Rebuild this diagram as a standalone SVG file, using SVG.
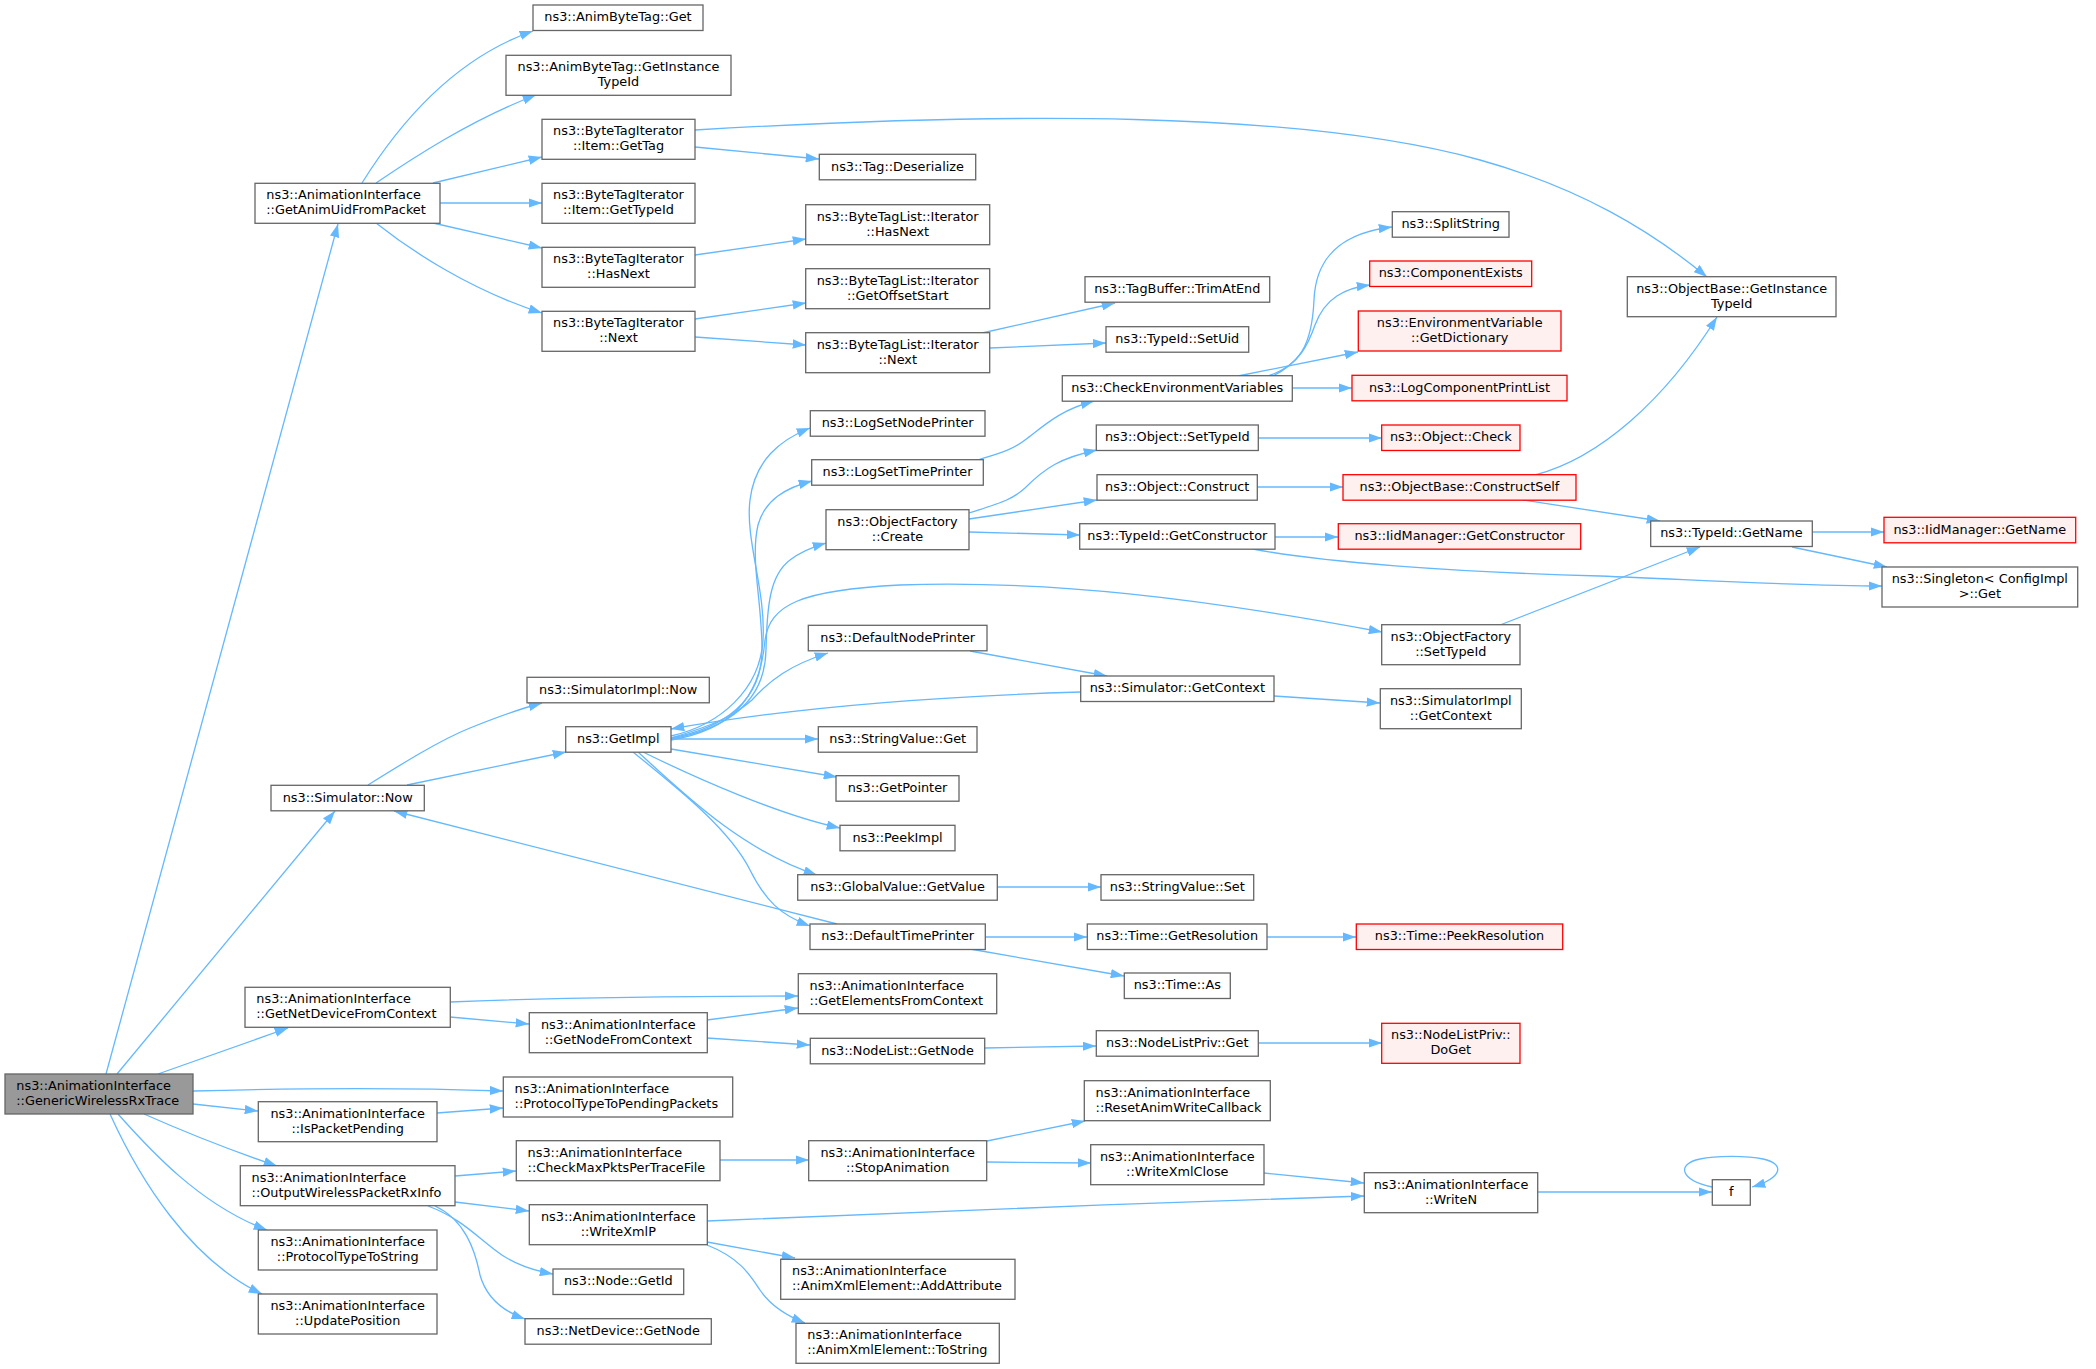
<svg xmlns="http://www.w3.org/2000/svg" width="2096" height="1369" viewBox="0 0 2096 1369">
<defs>
<marker id="a" markerUnits="userSpaceOnUse" markerWidth="14" markerHeight="9.4" viewBox="0 0 14 9.4" refX="13.3" refY="4.7" orient="auto"><path d="M0,0 L13.3,4.7 L0,9.4 z" fill="#63b8ff"/></marker>
</defs>
<style>
rect{fill:#fff;stroke:#666;stroke-width:1.3}
.r rect{fill:#fff0f0;stroke:#ff0000}
.root rect{fill:#999}
text{font-family:"DejaVu Sans","Liberation Sans",sans-serif;font-size:12.85px;fill:#000}
.c text{text-anchor:middle}
#edges path{fill:none;stroke:#63b8ff;stroke-width:1.3;marker-end:url(#a)}
</style>
<rect x="0" y="0" width="2096" height="1369" style="fill:#fff;stroke:none"/>
<g id="edges">
<path d="M106,1074 L338,224"/>
<path d="M117,1074 L335,811"/>
<path d="M158,1074 L288,1028"/>
<path d="M193,1091 C300,1088 420,1088 503,1091"/>
<path d="M193,1104 L258,1111"/>
<path d="M144,1114 C180,1130 230,1150 277,1166"/>
<path d="M118,1114 C150,1150 200,1205 267,1230"/>
<path d="M110,1114 C140,1180 190,1260 262,1294"/>
<path d="M362,183 C395,130 450,60 533,31"/>
<path d="M376,183 C410,160 470,120 536,95"/>
<path d="M433,183 L542,157"/>
<path d="M440,203 L542,203"/>
<path d="M433,223 L542,248"/>
<path d="M376,223 C410,250 470,290 542,313"/>
<path d="M695,130 C1000,112 1300,110 1480,160 C1580,188 1650,230 1707,277"/>
<path d="M695,147 L819,159"/>
<path d="M695,255 L806,239"/>
<path d="M695,319 L806,303"/>
<path d="M695,337 L806,345"/>
<path d="M982,333 L1115,303"/>
<path d="M990,348 L1106,343"/>
<path d="M1268,376 C1300,365 1312,345 1314,300 C1316,250 1350,232 1392,227"/>
<path d="M1273,376 C1300,362 1308,345 1315,325 C1325,298 1345,288 1370,285"/>
<path d="M1238,376 L1358,352"/>
<path d="M1292,388 L1352,388"/>
<path d="M1258,438 L1382,438"/>
<path d="M969,513 C1000,503 1012,500 1025,488 C1045,468 1060,458 1097,450"/>
<path d="M969,519 L1097,500"/>
<path d="M969,532 L1080,535"/>
<path d="M978,460 C1000,453 1012,450 1025,440 C1045,425 1060,410 1094,401"/>
<path d="M1535,475 C1600,458 1665,400 1717,317"/>
<path d="M1523,500 L1660,521"/>
<path d="M1275,537 L1338,537"/>
<path d="M1253,549 C1320,562 1450,572 1600,576 C1700,580 1800,586 1882,586"/>
<path d="M1500,625 L1700,547"/>
<path d="M1812,532 L1884,532"/>
<path d="M1792,547 L1887,567"/>
<path d="M1257,487 L1343,487"/>
<path d="M671,736 C720,725 760,690 763,640 C766,590 745,540 750,500 C755,460 780,440 810,428"/>
<path d="M671,738 C725,728 762,700 762,650 C762,600 750,560 758,525 C765,500 785,488 812,481"/>
<path d="M671,739 C730,728 765,700 766,650 C767,605 770,575 790,560 C800,552 812,547 826,543"/>
<path d="M671,740 C730,730 760,700 765,640 C770,605 800,590 900,585 C1050,580 1200,598 1382,632"/>
<path d="M671,738 C715,725 735,715 752,700 C770,680 790,665 828,653"/>
<path d="M1081,692 C950,696 800,706 671,729"/>
<path d="M671,739 L818,739"/>
<path d="M671,749 L837,777"/>
<path d="M643,752 C700,780 780,815 840,828"/>
<path d="M638,752 C680,790 740,850 817,875"/>
<path d="M633,752 C680,790 730,830 750,870 C765,900 780,915 810,926"/>
<path d="M837,924 L394,811"/>
<path d="M368,785 C400,765 440,740 470,728 C495,718 515,710 542,703"/>
<path d="M407,785 L566,752"/>
<path d="M997,887 L1101,887"/>
<path d="M970,651 L1107,676"/>
<path d="M1274,696 L1380,703"/>
<path d="M985,937 L1087,937"/>
<path d="M970,949 L1124,976"/>
<path d="M1267,937 L1356,937"/>
<path d="M450,1002 C550,998 700,996 798,996"/>
<path d="M450,1017 L529,1024"/>
<path d="M707,1020 L798,1008"/>
<path d="M707,1038 L810,1045"/>
<path d="M985,1048 L1096,1046"/>
<path d="M1258,1043 L1382,1043"/>
<path d="M437,1113 L503,1108"/>
<path d="M455,1176 L516,1171"/>
<path d="M455,1202 L529,1211"/>
<path d="M428,1206 C460,1218 475,1235 495,1250 C510,1262 530,1270 553,1274"/>
<path d="M435,1206 C465,1220 475,1250 480,1275 C487,1300 505,1312 525,1319"/>
<path d="M720,1160 L809,1160"/>
<path d="M987,1141 L1085,1121"/>
<path d="M987,1162 L1091,1163"/>
<path d="M1264,1173 L1364,1183"/>
<path d="M707,1221 C900,1212 1150,1203 1364,1196"/>
<path d="M707,1242 L795,1258"/>
<path d="M707,1245 C740,1258 750,1275 760,1290 C770,1305 785,1315 805,1323"/>
<path d="M1538,1192 L1712,1192"/>
<path d="M1712,1187 C1680,1180 1676,1164 1700,1159 C1715,1155.5 1748,1155.5 1763,1159 C1786,1164 1782,1178 1752,1187"/>
</g>
<g id="n0" class="root"><rect x="5" y="1074" width="188" height="40"/><text x="16.3" y="1089.9">ns3::AnimationInterface</text><text x="16.3" y="1104.9">::GenericWirelessRxTrace</text></g>
<g id="n1"><rect x="255" y="183.3" width="185" height="40"/><text x="266.3" y="199.2">ns3::AnimationInterface</text><text x="266.3" y="214.2">::GetAnimUidFromPacket</text></g>
<g id="n2" class="c"><rect x="533" y="5" width="170" height="25.5"/><text x="618" y="21.3">ns3::AnimByteTag::Get</text></g>
<g id="n3" class="c"><rect x="506" y="55.3" width="225" height="40"/><text x="618.5" y="71.2">ns3::AnimByteTag::GetInstance</text><text x="618.5" y="86.2">TypeId</text></g>
<g id="n4" class="c"><rect x="542" y="119.3" width="153" height="40"/><text x="618.5" y="135.2">ns3::ByteTagIterator</text><text x="618.5" y="150.2">::Item::GetTag</text></g>
<g id="n5" class="c"><rect x="542" y="183.3" width="153" height="40"/><text x="618.5" y="199.2">ns3::ByteTagIterator</text><text x="618.5" y="214.2">::Item::GetTypeId</text></g>
<g id="n6" class="c"><rect x="542" y="247.3" width="153" height="40"/><text x="618.5" y="263.2">ns3::ByteTagIterator</text><text x="618.5" y="278.2">::HasNext</text></g>
<g id="n7" class="c"><rect x="542" y="311.3" width="153" height="40"/><text x="618.5" y="327.2">ns3::ByteTagIterator</text><text x="618.5" y="342.2">::Next</text></g>
<g id="n8" class="c"><rect x="819.3" y="154.3" width="156.4" height="25.5"/><text x="897.5" y="170.6">ns3::Tag::Deserialize</text></g>
<g id="n9" class="c"><rect x="805.7" y="204.7" width="184" height="40"/><text x="897.7" y="220.6">ns3::ByteTagList::Iterator</text><text x="897.7" y="235.6">::HasNext</text></g>
<g id="n10" class="c"><rect x="805.7" y="268.7" width="184" height="40"/><text x="897.7" y="284.6">ns3::ByteTagList::Iterator</text><text x="897.7" y="299.6">::GetOffsetStart</text></g>
<g id="n11" class="c"><rect x="805.7" y="332.7" width="184" height="40"/><text x="897.7" y="348.6">ns3::ByteTagList::Iterator</text><text x="897.7" y="363.6">::Next</text></g>
<g id="n12" class="c"><rect x="1627.3" y="276.7" width="208.7" height="40"/><text x="1731.7" y="292.6">ns3::ObjectBase::GetInstance</text><text x="1731.7" y="307.6">TypeId</text></g>
<g id="n13" class="c"><rect x="1085" y="276.7" width="184.7" height="25.5"/><text x="1177.3" y="293">ns3::TagBuffer::TrimAtEnd</text></g>
<g id="n14" class="c"><rect x="1106" y="326.7" width="142.7" height="25.5"/><text x="1177.3" y="343">ns3::TypeId::SetUid</text></g>
<g id="n15" class="c"><rect x="1392.3" y="211.7" width="116.7" height="25.5"/><text x="1450.7" y="228">ns3::SplitString</text></g>
<g id="n16" class="c r"><rect x="1369.7" y="261" width="162" height="25.5"/><text x="1450.7" y="277.3">ns3::ComponentExists</text></g>
<g id="n17" class="c r"><rect x="1358.3" y="311" width="202.7" height="40"/><text x="1459.7" y="326.9">ns3::EnvironmentVariable</text><text x="1459.7" y="341.9">::GetDictionary</text></g>
<g id="n18" class="c"><rect x="1062.3" y="375.7" width="230" height="25.5"/><text x="1177.3" y="392">ns3::CheckEnvironmentVariables</text></g>
<g id="n19" class="c r"><rect x="1352" y="375.3" width="215" height="25.5"/><text x="1459.5" y="391.6">ns3::LogComponentPrintList</text></g>
<g id="n20" class="c"><rect x="810.3" y="410.7" width="174.7" height="25.5"/><text x="897.7" y="427">ns3::LogSetNodePrinter</text></g>
<g id="n21" class="c"><rect x="1096.3" y="425" width="162" height="25.5"/><text x="1177.3" y="441.3">ns3::Object::SetTypeId</text></g>
<g id="n22" class="c r"><rect x="1381.7" y="425" width="138.3" height="25.5"/><text x="1450.8" y="441.3">ns3::Object::Check</text></g>
<g id="n23" class="c"><rect x="811.7" y="459.7" width="171.6" height="25.5"/><text x="897.5" y="476">ns3::LogSetTimePrinter</text></g>
<g id="n24" class="c"><rect x="1097" y="474.7" width="160.3" height="25.5"/><text x="1177.2" y="491">ns3::Object::Construct</text></g>
<g id="n25" class="c r"><rect x="1343" y="474.7" width="233" height="25.5"/><text x="1459.5" y="491">ns3::ObjectBase::ConstructSelf</text></g>
<g id="n26" class="c"><rect x="826" y="509.7" width="143" height="40"/><text x="897.5" y="525.6">ns3::ObjectFactory</text><text x="897.5" y="540.6">::Create</text></g>
<g id="n27" class="c"><rect x="1079.7" y="523.7" width="195.3" height="25.5"/><text x="1177.3" y="540">ns3::TypeId::GetConstructor</text></g>
<g id="n28" class="c r"><rect x="1338.3" y="523.7" width="242.4" height="25.5"/><text x="1459.5" y="540">ns3::IidManager::GetConstructor</text></g>
<g id="n29" class="c"><rect x="1650.7" y="521" width="161.6" height="25.5"/><text x="1731.5" y="537.3">ns3::TypeId::GetName</text></g>
<g id="n30" class="c r"><rect x="1884" y="517.3" width="191.7" height="25.5"/><text x="1979.8" y="533.6">ns3::IidManager::GetName</text></g>
<g id="n31" class="c"><rect x="1882" y="567" width="195.7" height="40"/><text x="1979.8" y="582.9">ns3::Singleton&lt; ConfigImpl</text><text x="1979.8" y="597.9">&gt;::Get</text></g>
<g id="n32" class="c"><rect x="1381.7" y="624.7" width="138.3" height="40"/><text x="1450.8" y="640.6">ns3::ObjectFactory</text><text x="1450.8" y="655.6">::SetTypeId</text></g>
<g id="n33" class="c"><rect x="808.3" y="625.3" width="178.7" height="25.5"/><text x="897.7" y="641.6">ns3::DefaultNodePrinter</text></g>
<g id="n34" class="c"><rect x="527" y="677.3" width="182.3" height="25.5"/><text x="618.2" y="693.6">ns3::SimulatorImpl::Now</text></g>
<g id="n35" class="c"><rect x="1080.7" y="676" width="193.3" height="25.5"/><text x="1177.3" y="692.3">ns3::Simulator::GetContext</text></g>
<g id="n36" class="c"><rect x="1380.3" y="688.7" width="141" height="40"/><text x="1450.8" y="704.6">ns3::SimulatorImpl</text><text x="1450.8" y="719.6">::GetContext</text></g>
<g id="n37" class="c"><rect x="565.7" y="726.7" width="105.3" height="25.5"/><text x="618.3" y="743">ns3::GetImpl</text></g>
<g id="n38" class="c"><rect x="818.3" y="726.7" width="158.7" height="25.5"/><text x="897.7" y="743">ns3::StringValue::Get</text></g>
<g id="n39" class="c"><rect x="836" y="775.7" width="123" height="25.5"/><text x="897.5" y="792">ns3::GetPointer</text></g>
<g id="n40" class="c"><rect x="271" y="785.3" width="153.3" height="25.5"/><text x="347.7" y="801.6">ns3::Simulator::Now</text></g>
<g id="n41" class="c"><rect x="840" y="825.3" width="115" height="25.5"/><text x="897.5" y="841.6">ns3::PeekImpl</text></g>
<g id="n42" class="c"><rect x="797.7" y="874.7" width="199.6" height="25.5"/><text x="897.5" y="891">ns3::GlobalValue::GetValue</text></g>
<g id="n43" class="c"><rect x="1101" y="874.7" width="152.7" height="25.5"/><text x="1177.3" y="891">ns3::StringValue::Set</text></g>
<g id="n44" class="c"><rect x="810" y="924" width="175.3" height="25.5"/><text x="897.7" y="940.3">ns3::DefaultTimePrinter</text></g>
<g id="n45" class="c"><rect x="1087.3" y="924" width="179.7" height="25.5"/><text x="1177.2" y="940.3">ns3::Time::GetResolution</text></g>
<g id="n46" class="c r"><rect x="1356.3" y="924" width="206.4" height="25.5"/><text x="1459.5" y="940.3">ns3::Time::PeekResolution</text></g>
<g id="n47" class="c"><rect x="1124.3" y="973" width="106" height="25.5"/><text x="1177.3" y="989.3">ns3::Time::As</text></g>
<g id="n48"><rect x="245" y="987.3" width="205.3" height="40"/><text x="256.3" y="1003.2">ns3::AnimationInterface</text><text x="256.3" y="1018.2">::GetNetDeviceFromContext</text></g>
<g id="n49"><rect x="798.3" y="973.7" width="198.4" height="40"/><text x="809.6" y="989.6">ns3::AnimationInterface</text><text x="809.6" y="1004.6">::GetElementsFromContext</text></g>
<g id="n50" class="c"><rect x="529.3" y="1012.7" width="178" height="40"/><text x="618.3" y="1028.6">ns3::AnimationInterface</text><text x="618.3" y="1043.6">::GetNodeFromContext</text></g>
<g id="n51" class="c"><rect x="810.3" y="1038.3" width="174.4" height="25.5"/><text x="897.5" y="1054.6">ns3::NodeList::GetNode</text></g>
<g id="n52" class="c"><rect x="1096.3" y="1030.7" width="162" height="25.5"/><text x="1177.3" y="1047">ns3::NodeListPriv::Get</text></g>
<g id="n53" class="c r"><rect x="1381.7" y="1023.3" width="138.3" height="40"/><text x="1450.8" y="1039.2">ns3::NodeListPriv::</text><text x="1450.8" y="1054.2">DoGet</text></g>
<g id="n54"><rect x="503.3" y="1077" width="229.4" height="40"/><text x="514.6" y="1092.9">ns3::AnimationInterface</text><text x="514.6" y="1107.9">::ProtocolTypeToPendingPackets</text></g>
<g id="n55"><rect x="1084.3" y="1080.7" width="186" height="40"/><text x="1095.6" y="1096.6">ns3::AnimationInterface</text><text x="1095.6" y="1111.6">::ResetAnimWriteCallback</text></g>
<g id="n56" class="c"><rect x="258.3" y="1101.7" width="178.7" height="40"/><text x="347.7" y="1117.6">ns3::AnimationInterface</text><text x="347.7" y="1132.6">::IsPacketPending</text></g>
<g id="n57"><rect x="516.3" y="1140.7" width="203.7" height="40"/><text x="527.6" y="1156.6">ns3::AnimationInterface</text><text x="527.6" y="1171.6">::CheckMaxPktsPerTraceFile</text></g>
<g id="n58" class="c"><rect x="808.7" y="1140.7" width="178" height="40"/><text x="897.7" y="1156.6">ns3::AnimationInterface</text><text x="897.7" y="1171.6">::StopAnimation</text></g>
<g id="n59" class="c"><rect x="1090.7" y="1144.7" width="173.3" height="40"/><text x="1177.3" y="1160.6">ns3::AnimationInterface</text><text x="1177.3" y="1175.6">::WriteXmlClose</text></g>
<g id="n60"><rect x="240.3" y="1165.7" width="214.7" height="40"/><text x="251.6" y="1181.6">ns3::AnimationInterface</text><text x="251.6" y="1196.6">::OutputWirelessPacketRxInfo</text></g>
<g id="n61" class="c"><rect x="1364.3" y="1172.7" width="173.4" height="40"/><text x="1451" y="1188.6">ns3::AnimationInterface</text><text x="1451" y="1203.6">::WriteN</text></g>
<g id="n62" class="c"><rect x="1712.3" y="1179.7" width="38" height="25.5"/><text x="1731.3" y="1196">f</text></g>
<g id="n63" class="c"><rect x="529.3" y="1204.7" width="178" height="40"/><text x="618.3" y="1220.6">ns3::AnimationInterface</text><text x="618.3" y="1235.6">::WriteXmlP</text></g>
<g id="n64" class="c"><rect x="258.3" y="1230" width="178.7" height="40"/><text x="347.7" y="1245.9">ns3::AnimationInterface</text><text x="347.7" y="1260.9">::ProtocolTypeToString</text></g>
<g id="n65" class="c"><rect x="553" y="1269" width="130.7" height="25.5"/><text x="618.3" y="1285.3">ns3::Node::GetId</text></g>
<g id="n66"><rect x="780.7" y="1259.3" width="234.3" height="40"/><text x="792" y="1275.2">ns3::AnimationInterface</text><text x="792" y="1290.2">::AnimXmlElement::AddAttribute</text></g>
<g id="n67" class="c"><rect x="258.3" y="1294" width="178.7" height="40"/><text x="347.7" y="1309.9">ns3::AnimationInterface</text><text x="347.7" y="1324.9">::UpdatePosition</text></g>
<g id="n68" class="c"><rect x="525" y="1318.7" width="186.3" height="25.5"/><text x="618.2" y="1335">ns3::NetDevice::GetNode</text></g>
<g id="n69"><rect x="796" y="1323.3" width="203.3" height="40"/><text x="807.3" y="1339.2">ns3::AnimationInterface</text><text x="807.3" y="1354.2">::AnimXmlElement::ToString</text></g>
</svg>
